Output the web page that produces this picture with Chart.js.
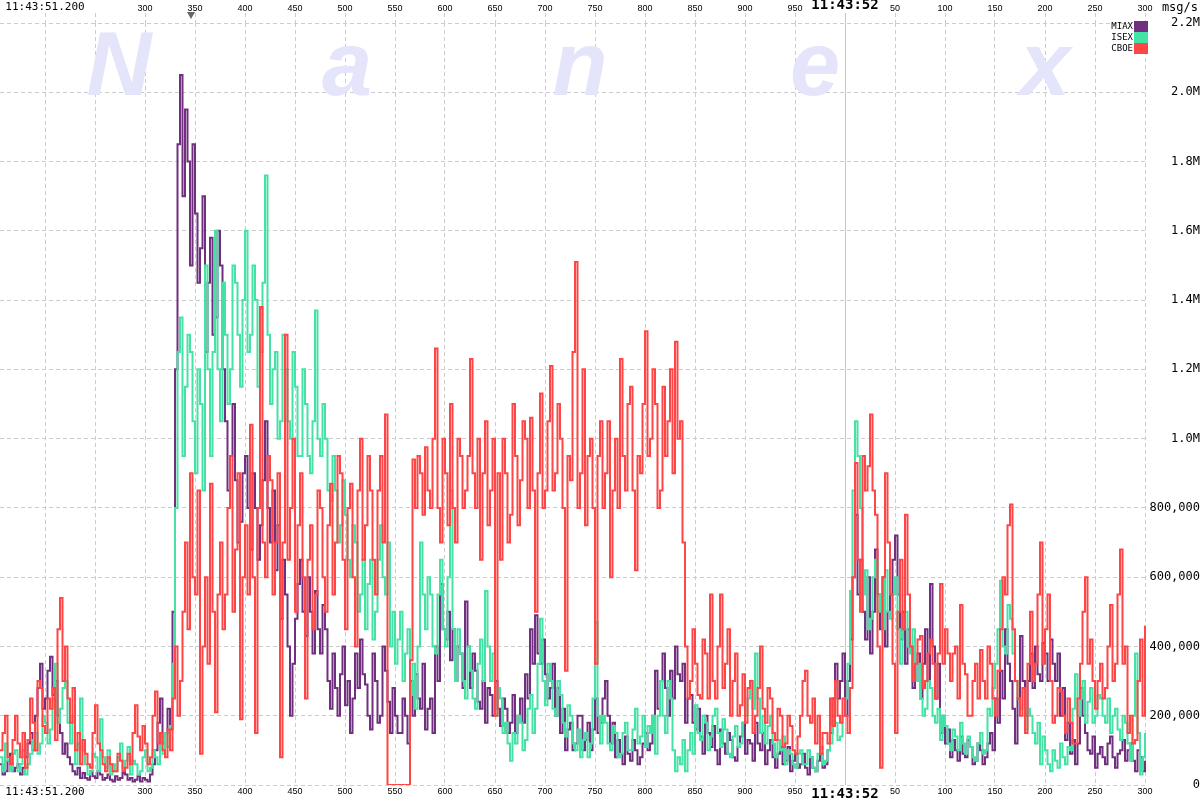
<!DOCTYPE html>
<html lang="en">
<head>
    <meta charset="UTF-8">
    <title>MIAX / ISEX / CBOE msg/s</title>
    <script src="https://cdn.jsdelivr.net/npm/chart.js"></script>
    <style>
        body { margin: 0; background: #fff; }
        canvas { display: block; }
    </style>
</head>
<body>
    <canvas id="chart" width="1200" height="800"></canvas>
    <script>
        // time axis: ms after 11:43:51.000, one sample every 2.5 ms from .155
        const startMs = 155;
        const stepMs = 2.5;
        const xTicks = [200, 250, 300, 350, 400, 450, 500, 550, 600, 650, 700, 750,
                        800, 850, 900, 950, 1000, 1050, 1100, 1150, 1200, 1250, 1300];

        // values in thousands of msg/s
        const miax = [
            60,30,40,70,90,40,50,60,30,50,80,120,150,100,200,280,350,220,250,330,
            370,260,300,200,150,90,120,80,60,40,30,50,20,35,20,15,40,25,20,40,
            30,15,20,30,15,10,25,15,20,35,30,15,20,10,15,25,10,20,15,10,
            30,60,100,180,250,120,150,220,160,500,1200,1850,2050,1700,1950,1800,1500,1850,1650,1450,
            1550,1700,1250,1450,1580,1300,1350,1600,1500,1200,1050,850,950,1100,880,700,760,900,950,800,
            680,900,800,650,750,880,1050,800,700,850,620,750,480,650,550,400,200,350,480,580,
            650,500,430,600,500,380,560,450,380,520,450,300,220,380,280,200,320,400,230,300,
            150,250,380,280,420,320,290,200,160,380,300,180,200,400,330,240,150,280,200,150,
            150,250,200,120,300,200,320,250,220,350,160,220,250,150,400,300,580,450,420,500,
            360,450,300,400,380,280,530,400,280,380,330,240,220,300,180,280,260,200,300,220,
            170,250,220,150,180,260,150,200,250,180,320,250,450,350,490,380,350,420,320,250,
            280,350,200,280,150,220,100,160,180,100,120,200,200,100,130,180,100,160,250,150,
            180,250,300,200,120,180,80,130,90,60,140,90,70,130,100,60,80,120,150,100,
            120,200,330,220,300,380,280,200,330,250,400,320,300,350,180,250,260,180,160,220,
            140,90,200,150,110,170,100,60,160,120,90,150,130,80,70,110,140,180,90,130,
            120,70,180,120,100,150,60,100,130,80,50,90,110,60,70,110,40,70,90,50,
            60,90,50,30,80,50,40,70,90,50,60,100,150,250,350,250,300,380,200,300,
            420,600,780,550,650,500,420,600,380,500,680,550,450,600,400,500,550,650,720,550,
            420,500,350,450,400,280,300,380,250,350,450,300,580,400,250,350,150,200,120,160,
            80,130,100,70,140,90,80,130,110,60,70,120,100,60,80,120,150,100,250,180,
            330,250,450,350,300,220,120,250,430,300,200,300,380,280,400,320,300,410,380,300,
            420,350,300,380,200,280,130,180,90,130,60,120,280,200,150,100,90,140,50,90,
            110,80,60,120,140,80,50,90,100,130,70,100,120,70,40,100,80,40,70
        ];
        const isex = [
            80,40,120,70,40,90,100,40,60,100,30,60,90,130,150,90,120,200,180,120,
            160,250,350,180,220,280,300,180,120,200,60,120,250,100,60,30,40,90,80,40,
            190,80,50,100,30,60,40,80,120,50,70,110,30,70,60,30,40,80,100,40,
            50,100,80,60,130,90,150,110,170,350,800,1250,1350,950,1150,1300,1250,1050,900,1200,
            1100,850,1500,1200,950,1250,1600,1200,1050,1450,1300,1100,1200,1500,1450,1300,1150,1400,1600,1250,
            1300,1500,1400,1150,1250,1450,1760,1300,1100,1200,1250,1000,1050,1300,1200,1050,1000,1250,1150,950,
            950,1200,1100,950,900,1050,1370,1000,950,1100,1000,850,820,950,850,700,750,880,780,650,
            600,750,700,500,550,650,450,580,650,420,500,650,750,600,550,700,400,500,350,420,
            500,300,380,450,260,350,220,400,700,550,450,600,550,400,380,550,650,450,400,600,
            850,450,300,450,380,300,250,400,330,250,220,350,420,300,560,400,300,380,200,280,
            250,150,180,120,70,150,120,200,180,100,130,220,260,150,220,350,480,300,230,350,
            300,220,200,300,260,180,140,230,200,120,100,160,80,130,150,80,120,250,470,200,
            120,200,180,120,100,170,150,80,90,150,180,100,100,160,220,120,140,200,110,170,
            150,200,90,200,300,200,150,300,250,100,40,80,60,130,40,100,150,90,230,150,
            130,200,180,100,140,200,220,150,110,190,160,90,80,140,170,110,120,180,200,250,
            300,220,380,250,150,200,120,170,200,120,80,130,100,140,60,100,90,60,50,90,
            100,60,60,100,80,50,40,90,110,60,70,100,120,170,180,130,140,200,250,350,
            560,850,1050,950,800,550,620,450,480,600,650,500,550,450,620,500,480,550,600,450,
            350,450,500,400,380,450,300,350,250,200,220,300,280,200,180,220,130,200,170,120,
            100,160,140,100,180,120,90,140,110,80,70,120,150,90,100,220,200,280,350,450,
            590,400,380,520,480,380,300,250,220,280,160,220,200,150,120,180,60,140,100,60,
            40,100,70,50,120,80,60,110,100,220,320,200,250,300,180,240,280,180,200,260,
            250,200,180,250,150,200,220,160,130,200,180,120,70,200,380,150,30,80,150
        ];
        const cboe = [
            100,150,200,80,60,130,200,120,80,150,50,130,250,180,100,300,280,170,150,250,
            220,280,130,450,540,300,400,250,180,280,100,150,60,130,90,60,50,150,230,120,
            100,60,40,80,60,40,40,90,70,40,50,90,60,150,230,140,100,170,120,60,
            80,200,270,120,150,100,80,160,100,250,400,200,300,500,700,450,900,600,550,850,
            90,400,600,350,870,500,210,550,700,450,550,800,950,500,680,900,190,600,750,550,
            1040,600,150,800,1380,700,600,950,880,550,700,900,80,700,1300,650,800,1000,500,750,
            900,600,250,650,750,450,550,850,800,600,500,750,870,550,700,950,900,650,450,800,
            870,600,400,850,1000,650,750,950,850,650,550,850,950,700,1070,0,0,0,0,0,
            0,0,0,0,360,940,800,950,900,780,975,850,800,1000,1260,800,700,1000,900,750,
            1100,800,700,1000,950,800,850,950,1230,900,800,1000,650,900,1050,750,850,1000,200,900,
            650,1000,900,700,780,1100,950,750,880,1050,1000,800,1060,850,500,900,1130,800,850,1050,
            1210,850,900,1100,1000,800,330,950,880,1250,1510,800,900,1200,750,950,1000,800,350,950,
            1050,800,900,1050,600,850,1000,800,1230,950,850,1100,1150,850,620,950,900,1100,1310,950,
            1000,1200,1100,800,850,1150,950,1050,1200,900,1280,1000,1050,700,400,250,300,450,350,260,
            250,420,380,250,550,300,250,400,550,280,350,450,200,300,380,200,230,320,180,280,
            300,150,200,280,400,220,180,280,250,150,130,220,200,110,120,200,170,100,90,140,
            200,300,330,200,180,250,120,200,90,150,150,120,250,170,300,200,180,250,200,150,
            280,600,930,650,500,950,850,920,1070,850,780,400,50,600,900,700,550,350,150,500,
            650,450,780,550,400,300,350,420,430,280,300,380,420,350,250,380,580,350,450,380,
            300,380,400,250,520,350,320,200,200,300,350,250,390,300,250,400,350,250,200,330,
            450,600,550,750,810,450,300,250,200,280,150,350,500,300,350,550,700,350,450,550,
            300,180,200,280,270,200,150,250,180,120,120,250,350,500,600,350,420,300,220,300,
            350,250,280,400,520,300,350,550,680,350,400,150,200,120,130,300,420,200,460
        ];

        const seriesNames = ['MIAX', 'ISEX', 'CBOE'];
        const seriesColors = ['#70307f', '#44e2a4', '#ff4545'];

        function toPoints(vals) {
            return vals.map((v, i) => ({ x: startMs + i * stepMs, y: v * 1000 }));
        }

        const gridGray = '#cccccc';

        function xLabel(v) {
            if (v === 200) return '11:43:51.200';
            if (v === 250) return '';
            if (v === 1000) return '11:43:52';
            return String(v % 1000);
        }
        function xFont(ctx) {
            const v = ctx.tick && ctx.tick.value;
            if (v === 1000) return { family: 'DejaVu Sans Mono', size: 14, weight: 'bold' };
            if (v === 200) return { family: 'DejaVu Sans Mono', size: 11 };
            return { family: 'Liberation Sans', size: 9 };
        }
        const xDash = ctx => (ctx.tick && ctx.tick.value === 1000) ? [] : [4, 3];
        const xLineColor = ctx => (ctx.tick && ctx.tick.value === 1000) ? '#c4c4c4' : gridGray;

        // watermark, legend, unit label, marker
        const decorations = {
            id: 'decorations',
            beforeDatasetsDraw(chart) {
                const c = chart.ctx;
                c.save();
                c.fillStyle = '#e4e4fa';
                c.font = 'italic bold 90px "Liberation Sans"';
                c.textAlign = 'center';
                c.textBaseline = 'alphabetic';
                const letters = ['N', 'a', 'n', 'e', 'x'];
                const centers = [119, 347, 580, 815, 1045];
                letters.forEach((l, i) => c.fillText(l, centers[i], 95));
                c.restore();
            },
            afterDraw(chart) {
                const c = chart.ctx;
                const area = chart.chartArea;
                c.save();
                // legend
                c.font = '9px "DejaVu Sans Mono"';
                c.textAlign = 'right';
                c.textBaseline = 'middle';
                seriesNames.forEach((name, i) => {
                    const y = area.top - 2 + i * 11;
                    c.fillStyle = seriesColors[i];
                    c.fillRect(area.right - 13, y, 14, 11);
                    c.fillStyle = '#000';
                    c.fillText(name, area.right - 14, y + 6);
                });
                // unit
                c.font = '12px "DejaVu Sans Mono"';
                c.textAlign = 'right';
                c.textBaseline = 'top';
                c.fillText('msg/s', 1198, 2);
                // marker triangle
                const mx = chart.scales.x.getPixelForValue(346);
                c.fillStyle = '#666';
                c.beginPath();
                c.moveTo(mx - 4, 12);
                c.lineTo(mx + 4, 12);
                c.lineTo(mx, 19);
                c.closePath();
                c.fill();
                c.restore();
            }
        };

        new Chart(document.getElementById('chart'), {
            type: 'line',
            data: {
                datasets: [
                    { label: 'CBOE', data: toPoints(cboe), borderColor: seriesColors[2], order: 0 },
                    { label: 'ISEX', data: toPoints(isex), borderColor: seriesColors[1], order: 1 },
                    { label: 'MIAX', data: toPoints(miax), borderColor: seriesColors[0], order: 2 }
                ]
            },
            options: {
                responsive: false,
                animation: false,
                layout: { padding: 0 },
                elements: {
                    line: { borderWidth: 2, stepped: true, tension: 0, fill: false },
                    point: { radius: 0 }
                },
                plugins: {
                    legend: { display: false },
                    tooltip: { enabled: false }
                },
                scales: {
                    x: {
                        type: 'linear',
                        position: 'bottom',
                        min: 155,
                        max: 1302,
                        afterBuildTicks: s => { s.ticks = xTicks.map(v => ({ value: v })); },
                        afterFit: s => { s.height = 15; },
                        ticks: {
                            autoSkip: false,
                            maxRotation: 0,
                            padding: 1,
                            color: '#000',
                            font: xFont,
                            callback: v => xLabel(v)
                        },
                        grid: { color: xLineColor, drawTicks: false },
                        border: { display: false, dash: xDash }
                    },
                    x2: {
                        type: 'linear',
                        position: 'top',
                        min: 155,
                        max: 1302,
                        afterBuildTicks: s => { s.ticks = xTicks.map(v => ({ value: v })); },
                        afterFit: s => { s.height = 23; },
                        ticks: {
                            autoSkip: false,
                            maxRotation: 0,
                            padding: -1,
                            color: '#000',
                            font: xFont,
                            callback: v => xLabel(v)
                        },
                        grid: {
                            drawOnChartArea: false,
                            drawTicks: true,
                            tickLength: 10,
                            tickColor: xLineColor,
                            tickBorderDash: xDash
                        },
                        border: { display: false }
                    },
                    y: {
                        position: 'right',
                        min: 0,
                        max: 2200000,
                        afterFit: s => { s.width = 53; },
                        ticks: {
                            stepSize: 200000,
                            crossAlign: 'far',
                            padding: 2,
                            color: '#000',
                            font: { family: 'DejaVu Sans Mono', size: 12 },
                            callback: v => v === 0 ? '0' : (v >= 1000000 ? (v / 1000000).toFixed(1) + 'M' : v.toLocaleString('en-US'))
                        },
                        grid: { color: gridGray, drawTicks: false },
                        border: { display: false, dash: [4, 3] }
                    }
                }
            },
            plugins: [decorations]
        });
    </script>
</body>
</html>
